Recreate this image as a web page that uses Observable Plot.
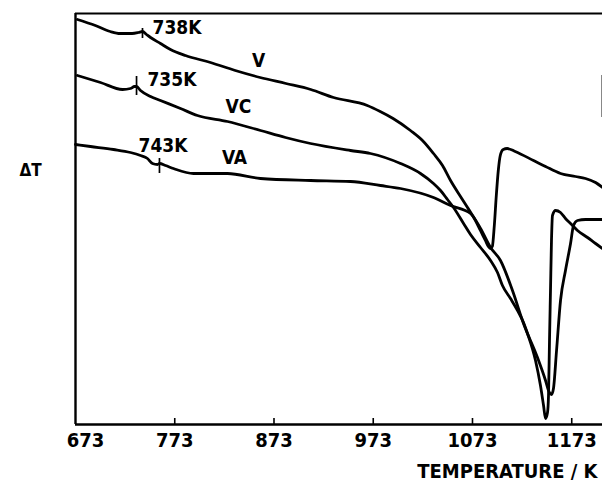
<!DOCTYPE html>
<html>
<head>
<meta charset="utf-8">
<script src="https://cdn.jsdelivr.net/npm/d3@7"></script>
<script src="https://cdn.jsdelivr.net/npm/@observablehq/plot@0.6"></script>
<style>
  html, body { margin: 0; padding: 0; background: #fff; }
  #chart svg { display: block; background: #fff; }
</style>
</head>
<body>
<div id="chart"></div>
<script>
// Temperature (K) and ΔT (arbitrary units)
const vT  = [675,693,708,718,730,736.5,740.5,744.5,748.6,758.6,768.7,783.8,809,834,859,885,910,933,967,980,993,1010.5,1022.6,1033.7,1042.8,1050.9,1060.9,1068,1076,1081,1086,1089,1091,1093,1095,1097,1099,1101,1104,1108,1116,1134.5,1146.6,1161.7,1176.8,1186.9,1197,1204];
const vDT = [405,399,393,391,391,392,393,390,387,381,375,369,362,354,347,341,335,327,319,313,306,294,284,271,259,244,228,217,204,194,184,178,176,178,199,229,254,269,275,276,273,264,258,251,248,246,242,237];

const vcT  = [675,698.2,720.4,728.4,732.4,734.5,738.5,748.6,758.6,778.8,795.9,826.2,859.4,884.6,909.8,950.1,970.2,1000.5,1020.6,1033.7,1040.8,1047.8,1053.9,1064,1071,1081.1,1091.2,1098.2,1103.2,1111.3,1118.4,1124.4,1128.4,1136.5,1141.5,1144.6,1146.6,1148.6,1149.6,1150.6,1151.6,1152.6,1153.6,1156.7,1161.7,1166.7,1171.8,1178.8,1188.9,1197,1204];
const vcDT = [349,342,335,336,338,338,334,328,324,316,309,303,294,287,281,274,271,261,251,241,234,225,217,201,190,177,164,152,139,126,114,102,91,64,39,19,6,12,29,84,134,184,209,214,212,206,201,194,187,181,176];

const vaT  = [673,688.1,711.3,728.4,738.5,745.5,750.6,755.6,757.6,763.7,771.7,791.9,826.2,859.4,909.8,950.1,980.3,1000.5,1033.7,1050.9,1071,1081.1,1091.2,1101.2,1113.3,1124.4,1138.5,1146.6,1149.6,1152.6,1154.6,1157.7,1161.7,1166.7,1171.8,1174.8,1178.8,1186.9,1204];
const vaDT = [280,278,275,272,269,266,261,260,261,259,256,251,251,246,244,243,239,236,227,219,211,196,177,164,134,101,67,44,34,30,36,74,124,154,181,199,204,205,205];

// transition markers on each curve
const markT   = [740.5, 734.5, 757.6];
const markLo  = [386, 329, 251];
const markHi  = [396, 348, 266];
const markText = ["738K", "735K", "743K"];
const markTextT  = [750.6, 745.5, 736.5];
const markTextDT = [397, 344.5, 278.5];

// curve names
const curveNames = ["V", "VC", "VA"];
const curveNameT  = [857.4, 837.2, 833.2];
const curveNameDT = [364, 317.5, 267];

// axis
const xTicks = [673, 773, 873, 973, 1073, 1173];
const xTickLabels = ["673", "773", "873", "973", "1073", "1173"];
const xTitle = "TEMPERATURE / K";
const yTitle = "ΔT";

const toRows = (T, D) => T.map((t, i) => ({T: t, dT: D[i]}));
const series = [toRows(vT, vDT), toRows(vcT, vcDT), toRows(vaT, vaDT)];
const marks = markT.map((t, i) => ({T: t, lo: markLo[i], hi: markHi[i]}));
const markLabels = markText.map((s, i) => ({s, T: markTextT[i], dT: markTextDT[i]}));
const names = curveNames.map((s, i) => ({s, T: curveNameT[i], dT: curveNameDT[i]}));
const innerTicks = xTicks.slice(1);
const tickRows = xTicks.map((t, i) => ({t, s: xTickLabels[i]}));

const font = "DejaVu Sans Condensed, DejaVu Sans, sans-serif";

const chart = Plot.plot({
  width: 602,
  height: 486,
  marginLeft: 75,
  marginRight: 0,
  marginTop: 13,
  marginBottom: 62,
  style: {fontFamily: font, background: "#fff", color: "#000"},
  x: {domain: [673, 1204], axis: null},
  y: {domain: [0, 411], axis: null},
  marks: [
    // frame lines
    Plot.ruleY([411], {stroke: "#000", strokeWidth: 2.2}),
    Plot.ruleY([0], {stroke: "#000", strokeWidth: 2.4}),
    Plot.ruleX([673], {stroke: "#000", strokeWidth: 2.4}),
    Plot.ruleX([1203], {y1: 307, y2: 349, stroke: "#888", strokeWidth: 1}),
    // inward ticks
    Plot.ruleX(innerTicks, {y1: 0, y2: 6, stroke: "#000", strokeWidth: 1.6}),
    // curves
    ...series.map(s => Plot.line(s, {x: "T", y: "dT", curve: "monotone-x", stroke: "#000", strokeWidth: 2.8, strokeLinejoin: "round", strokeLinecap: "round"})),
    // transition markers
    Plot.ruleX(marks, {x: "T", y1: "lo", y2: "hi", stroke: "#000", strokeWidth: 1.7}),
    Plot.text(markLabels, {x: "T", y: "dT", text: "s", textAnchor: "start", fontSize: 19, fontWeight: "bold", fill: "#000"}),
    Plot.text(names, {x: "T", y: "dT", text: "s", fontSize: 19, fontWeight: "bold", fill: "#000"}),
    // tick labels
    Plot.text(tickRows.slice(0, 1), {x: "t", text: "s", frameAnchor: "bottom", dy: 22, dx: 10, fontSize: 20, fontWeight: "bold", fill: "#000"}),
    Plot.text(tickRows.slice(1), {x: "t", text: "s", frameAnchor: "bottom", dy: 22, fontSize: 20, fontWeight: "bold", fill: "#000"}),
    // axis titles
    Plot.text([xTitle], {frameAnchor: "bottom-right", dy: 53, dx: -5, textAnchor: "end", fontSize: 20, fontWeight: "bold", fill: "#000"}),
    Plot.text([yTitle], {frameAnchor: "left", y: [254], dx: -56, fontSize: 17, fontWeight: "bold", fill: "#000"})
  ]
});
document.getElementById("chart").appendChild(chart);
</script>
</body>
</html>
